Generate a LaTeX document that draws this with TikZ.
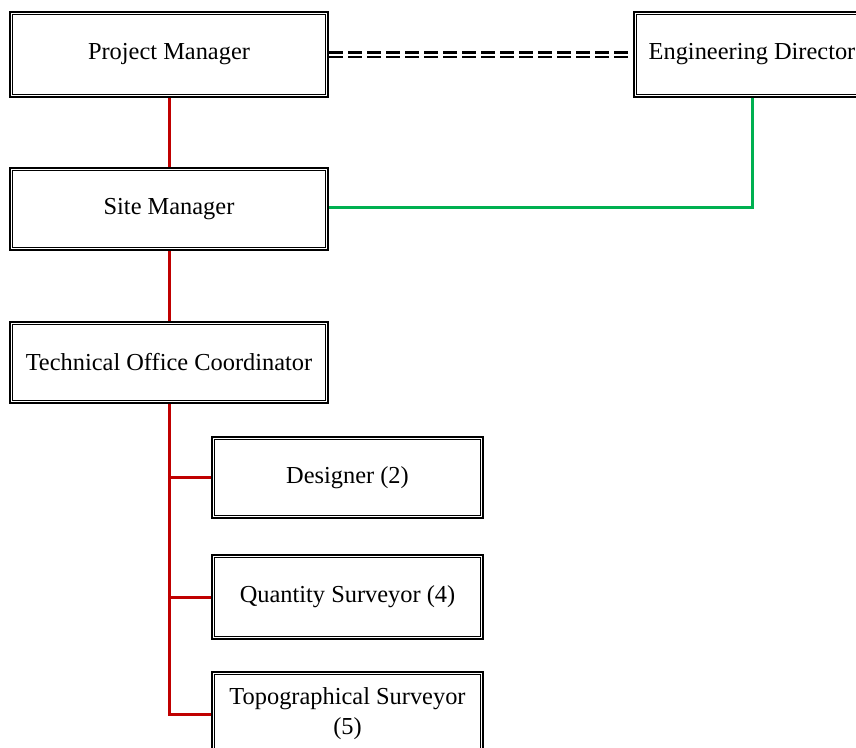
\documentclass[tikz,border=0pt]{standalone}
\usepackage{fontspec}
\setmainfont{Liberation Serif}
\definecolor{linkred}{HTML}{C00000}
\definecolor{linkgreen}{HTML}{00B050}
\begin{document}
\begin{tikzpicture}[x=1pt,y=-1pt,
  role/.style={draw=black, line width=2.3pt, fill=white, inner sep=0pt,
    align=center, font=\fontsize{24.4}{30}\selectfont},
  chain/.style={draw=linkred, line width=3pt},
  advise/.style={draw=linkgreen, line width=3pt},
  liaison/.style={draw=black, line width=2.6pt, double=white, double distance=2pt,
    dash pattern=on 14pt off 5pt}]
\useasboundingbox (0,0) rectangle (856,747);

% management line
\node[role, minimum width=318pt, minimum height=85pt] (pm)  at (169,54.5) {Project Manager};
\node[role, minimum width=236pt, minimum height=85pt] (ed)  at (752,54.5) {Engineering Director};
\node[role, minimum width=318pt, minimum height=82pt] (sm)  at (169,209) {Site Manager};
\node[role, minimum width=318pt, minimum height=81pt] (toc) at (169,362.5) {Technical Office Coordinator};

% technical office staff
\node[role, minimum width=271pt, minimum height=81pt] (des)  at (347.5,477.5) {Designer (2)};
\node[role, minimum width=271pt, minimum height=84pt] (qs)   at (347.5,597) {Quantity Surveyor (4)};
\node[role, minimum width=271pt, minimum height=84pt] (topo) at (347.5,714) {Topographical Surveyor\\(5)};

% inner rule of the double frames
\foreach \n in {pm,ed,sm,toc,des,qs,topo}
  \draw[line width=1pt] ([shift={(3.3pt,-3.3pt)}]\n.north west) rectangle ([shift={(-3.3pt,3.3pt)}]\n.south east);

% connectors
\draw[liaison] (pm.east) -- (ed.west);
\draw[chain] (pm.south) -- (sm.north);
\draw[chain] (sm.south) -- (toc.north);
\coordinate (trunk) at (toc.south |- topo.west);
\draw[chain] (toc.south) -- (trunk) -- (topo.west);
\draw[chain] (toc.south |- des.west) -- (des.west);
\draw[chain] (toc.south |- qs.west) -- (qs.west);
\draw[advise] ([yshift=2pt]sm.east) -| (ed.south);
\end{tikzpicture}
\end{document}
